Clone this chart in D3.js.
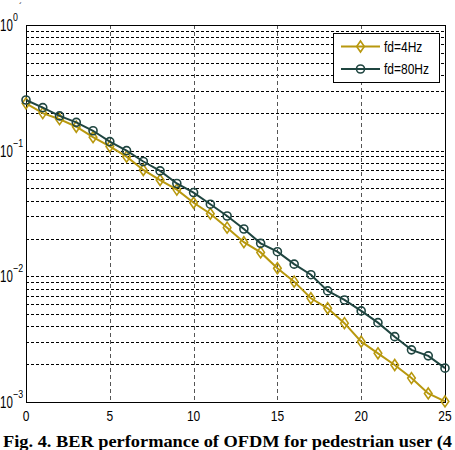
<!DOCTYPE html>
<html>
<head>
<meta charset="utf-8">
<script src="https://cdn.jsdelivr.net/npm/d3@7"></script>
<style>
  body { margin: 0; background: #fff; }
  svg { display: block; }
</style>
</head>
<body>
<script>
// SNR (dB) on the x axis
var snr = [0, 1, 2, 3, 4, 5, 6, 7, 8, 9, 10, 11, 12, 13, 14, 15, 16, 17, 18, 19, 20, 21, 22, 23, 24, 25];

// BER values
var ber4 = [0.238, 0.199, 0.178, 0.155, 0.128, 0.108, 0.0896, 0.0702, 0.0584, 0.049, 0.0385, 0.0315, 0.0244,
            0.0187, 0.0155, 0.0116, 0.00907, 0.00669, 0.00557, 0.00424, 0.00302, 0.00244, 0.00197, 0.00155, 0.00117, 0.00101];
var ber80 = [0.253, 0.22, 0.189, 0.168, 0.144, 0.118, 0.100, 0.082, 0.069, 0.0548, 0.0464, 0.0375, 0.0302,
             0.0238, 0.0183, 0.0157, 0.0125, 0.0103, 0.00766, 0.00649, 0.00531, 0.00428, 0.00331, 0.0026, 0.00233, 0.00186];

var seriesNames = ["fd=4Hz", "fd=80Hz"];
var xTicks = [0, 5, 10, 15, 20, 25];
var yExponents = [0, -1, -2, -3];
var caption = "Fig. 4. BER performance of OFDM for pedestrian user (4";

var width = 455, height = 450;
var plotLeft = 26, plotRight = 445, plotTop = 25, plotBottom = 402;

var svg = d3.select("body").append("svg")
    .attr("width", width)
    .attr("height", height);

var x = d3.scaleLinear().domain([0, 25]).range([plotLeft, plotRight]);
var y = d3.scaleLog().domain([1e-3, 1]).range([plotBottom, plotTop]);

// horizontal grid at every log tick
var yGrid = [];
for (var e = -3; e < 0; e++) {
    for (var m = 1; m < 10; m++) yGrid.push(m * Math.pow(10, e));
}
svg.append("g").selectAll("line").data(yGrid.filter(function(v) { return v > 1e-3; }))
    .enter().append("line")
    .attr("x1", plotLeft).attr("x2", plotRight)
    .attr("y1", function(d) { return Math.round(y(d)) + 0.5; })
    .attr("y2", function(d) { return Math.round(y(d)) + 0.5; })
    .style("stroke", "#000")
    .style("stroke-width", 1)
    .style("stroke-dasharray", "3,2");

// vertical grid
svg.append("g").selectAll("line").data(xTicks.slice(1, -1))
    .enter().append("line")
    .attr("x1", function(d) { return Math.round(x(d)) + 0.5; })
    .attr("x2", function(d) { return Math.round(x(d)) + 0.5; })
    .attr("y1", plotTop).attr("y2", plotBottom)
    .style("stroke", "#555")
    .style("stroke-width", 1)
    .style("stroke-dasharray", "4,3");

// axes box
svg.append("rect")
    .attr("x", plotLeft + 0.5).attr("y", plotTop + 0.5)
    .attr("width", plotRight - plotLeft).attr("height", plotBottom - plotTop)
    .style("fill", "none")
    .style("stroke", "#000")
    .style("stroke-width", 1);

// x tick labels
svg.append("g").selectAll("text").data(xTicks)
    .enter().append("text")
    .attr("transform", function(d) { return "translate(" + x(d) + ",421) scale(0.8,1)"; })
    .attr("text-anchor", "middle")
    .style("font-family", "Liberation Sans, Arial, sans-serif")
    .style("font-size", "15px")
    .text(function(d) { return d; });

// y tick labels 10^k
var yl = svg.append("g").selectAll("g").data(yExponents)
    .enter().append("g")
    .attr("transform", function(d) { return "translate(0," + y(Math.pow(10, d)) + ")"; });
yl.append("text")
    .attr("transform", "translate(0,6) scale(0.72,1)")
    .style("font-family", "Liberation Sans, Arial, sans-serif")
    .style("font-size", "16px")
    .text("10");
yl.append("text")
    .attr("transform", "translate(13,-4) scale(0.8,1)")
    .style("font-family", "Liberation Sans, Arial, sans-serif")
    .style("font-size", "11px")
    .text(function(d) { return d < 0 ? "\u2212" + Math.abs(d) : String(d); });

// small stray mark above the top label
svg.append("text")
    .attr("x", 19).attr("y", 9)
    .style("font-family", "Liberation Sans, Arial, sans-serif")
    .style("font-size", "9px")
    .text("\u00b4");

var colors = ["#b8980e", "#1f4540"];
var data = [ber4, ber80];

var line = d3.line()
    .x(function(d, i) { return x(snr[i]); })
    .y(function(d) { return y(d); });

function diamond(g, cx, cy, col) {
    g.append("path")
        .attr("d", "M" + cx + "," + (cy - 5.5) + "L" + (cx + 3.8) + "," + cy + "L" + cx + "," + (cy + 5.5) + "L" + (cx - 3.8) + "," + cy + "Z")
        .style("fill", "none")
        .style("stroke", col)
        .style("stroke-width", 1.6);
}
function circle(g, cx, cy, col) {
    g.append("circle")
        .attr("cx", cx).attr("cy", cy).attr("r", 4)
        .style("fill", "none")
        .style("stroke", col)
        .style("stroke-width", 1.6);
}

data.forEach(function(vals, s) {
    var g = svg.append("g");
    g.append("path")
        .datum(vals)
        .attr("d", line)
        .style("fill", "none")
        .style("stroke", colors[s])
        .style("stroke-width", 2);
    vals.forEach(function(v, i) {
        if (s === 0) diamond(g, x(snr[i]), y(v), colors[s]);
        else circle(g, x(snr[i]), y(v), colors[s]);
    });
});

// legend
var lg = svg.append("g");
lg.append("rect")
    .attr("x", 333.5).attr("y", 33.5)
    .attr("width", 106).attr("height", 49)
    .style("fill", "#fff")
    .style("stroke", "#000")
    .style("stroke-width", 1);
seriesNames.forEach(function(name, s) {
    var ly = s === 0 ? 46.5 : 69;
    lg.append("line")
        .attr("x1", 341).attr("x2", 380)
        .attr("y1", ly).attr("y2", ly)
        .style("stroke", colors[s])
        .style("stroke-width", 2);
    if (s === 0) diamond(lg, 360.5, ly, colors[s]);
    else circle(lg, 360.5, ly, colors[s]);
    lg.append("text")
        .attr("transform", "translate(384," + (ly + 5) + ") scale(0.8,1)")
        .style("font-family", "Liberation Sans, Arial, sans-serif")
        .style("font-size", "15px")
        .text(name);
});

// caption
svg.append("text")
    .attr("x", 3).attr("y", 447)
    .attr("textLength", 449)
    .attr("lengthAdjust", "spacingAndGlyphs")
    .style("font-family", "Liberation Serif, Times New Roman, serif")
    .style("font-weight", "bold")
    .style("font-size", "16px")
    .text(caption);
</script>
</body>
</html>
